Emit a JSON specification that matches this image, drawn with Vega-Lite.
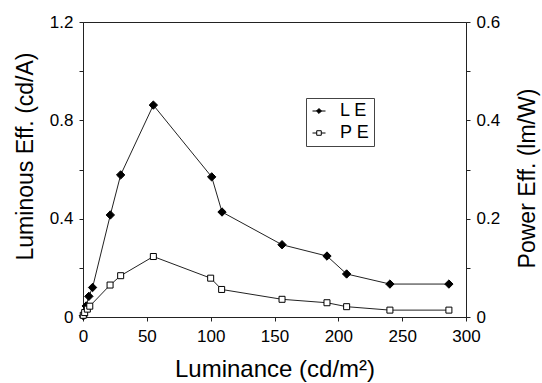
{
  "$schema": "https://vega.github.io/schema/vega-lite/v6.json",
  "width": 383,
  "height": 295,
  "autosize": {"type": "none"},
  "padding": {"left": 83, "top": 22, "right": 76, "bottom": 66},
  "background": "white",
  "config": {
    "view": {"stroke": "#222", "strokeWidth": 1},
    "font": "Liberation Sans",
    "axis": {
      "grid": false,
      "domainColor": "#222",
      "tickColor": "#222",
      "tickSize": 4,
      "labelFont": "Liberation Sans",
      "labelFontSize": 17,
      "labelColor": "black",
      "labelPadding": 6,
      "titleFont": "Liberation Sans",
      "titleFontSize": 23,
      "titleFontWeight": "normal",
      "titleColor": "black",
      "labelOverlap": false,
      "labelFlush": false
    },
    "legend": {
      "labelFont": "Liberation Sans",
      "labelFontSize": 18,
      "labelColor": "black"
    }
  },
  "data": {
    "values": [
      {"lum": 0.3, "eff": 0.005, "series": "L E"},
      {"lum": 2.5, "eff": 0.045, "series": "L E"},
      {"lum": 4.6, "eff": 0.084, "series": "L E"},
      {"lum": 7.5, "eff": 0.12, "series": "L E"},
      {"lum": 21.4, "eff": 0.415, "series": "L E"},
      {"lum": 29.5, "eff": 0.578, "series": "L E"},
      {"lum": 55.1, "eff": 0.862, "series": "L E"},
      {"lum": 100.8, "eff": 0.57, "series": "L E"},
      {"lum": 108.9, "eff": 0.427, "series": "L E"},
      {"lum": 155.9, "eff": 0.294, "series": "L E"},
      {"lum": 191.1, "eff": 0.248, "series": "L E"},
      {"lum": 206.5, "eff": 0.175, "series": "L E"},
      {"lum": 240.4, "eff": 0.134, "series": "L E"},
      {"lum": 286.6, "eff": 0.134, "series": "L E"},
      {"lum": 0.2, "eff": 0.0035, "series": "P E"},
      {"lum": 1.3, "eff": 0.009, "series": "P E"},
      {"lum": 3.4, "eff": 0.016, "series": "P E"},
      {"lum": 5.3, "eff": 0.022, "series": "P E"},
      {"lum": 21.2, "eff": 0.065, "series": "P E"},
      {"lum": 29.5, "eff": 0.084, "series": "P E"},
      {"lum": 55.1, "eff": 0.123, "series": "P E"},
      {"lum": 100.0, "eff": 0.079, "series": "P E"},
      {"lum": 108.6, "eff": 0.056, "series": "P E"},
      {"lum": 155.9, "eff": 0.036, "series": "P E"},
      {"lum": 191.1, "eff": 0.029, "series": "P E"},
      {"lum": 206.5, "eff": 0.021, "series": "P E"},
      {"lum": 240.4, "eff": 0.014, "series": "P E"},
      {"lum": 286.6, "eff": 0.014, "series": "P E"}
    ]
  },
  "encoding": {
    "x": {
      "field": "lum",
      "type": "quantitative",
      "scale": {"domain": [0, 300], "nice": false, "zero": false},
      "axis": {
        "values": [0, 50, 100, 150, 200, 250, 300],
        "title": "Luminance (cd/m²)",
        "titleFontSize": 24,
        "labelPadding": 7,
        "titlePadding": 13
      }
    }
  },
  "layer": [
    {
      "transform": [{"filter": "datum.series === 'L E'"}],
      "encoding": {
        "y": {
          "field": "eff",
          "type": "quantitative",
          "scale": {"domain": [0, 1.2], "nice": false},
          "axis": {
            "orient": "left",
            "values": [0, 0.2, 0.4, 0.6, 0.8, 1.0, 1.2],
            "format": ".1~f",
            "labelExpr": "indexof(['0','0.4','0.8','1.2'], datum.label) >= 0 ? datum.label : ''",
            "title": "Luminous Eff. (cd/A)",
            "titleY": 134,
            "titlePadding": 12
          }
        }
      },
      "layer": [
        {"mark": {"type": "line", "color": "#222", "strokeWidth": 1}, "encoding": {}},
        {
          "mark": {"type": "point", "shape": "diamond", "filled": true, "fill": "black", "stroke": "black", "strokeWidth": 1, "size": 70, "opacity": 1},
          "encoding": {}
        }
      ]
    },
    {
      "transform": [{"filter": "datum.series === 'P E'"}],
      "encoding": {
        "y": {
          "field": "eff",
          "type": "quantitative",
          "scale": {"domain": [0, 0.6], "nice": false},
          "axis": {
            "orient": "right",
            "values": [0, 0.1, 0.2, 0.3, 0.4, 0.5, 0.6],
            "format": ".1~f",
            "labelExpr": "indexof(['0','0.2','0.4','0.6'], datum.label) >= 0 ? datum.label : ''",
            "title": "Power Eff. (lm/W)",
            "titleAngle": 270,
            "titleBaseline": "top",
            "titleY": 156,
            "titlePadding": 17
          }
        }
      },
      "layer": [
        {"mark": {"type": "line", "color": "#222", "strokeWidth": 1}, "encoding": {}},
        {
          "mark": {"type": "point", "shape": "square", "filled": true, "fill": "white", "stroke": "black", "strokeWidth": 1, "size": 36, "opacity": 1},
          "encoding": {}
        },
        {
          "mark": {"type": "point", "filled": true, "strokeWidth": 1, "opacity": 0},
          "encoding": {
            "shape": {
              "field": "series",
              "type": "nominal",
              "scale": {"domain": ["L E", "P E"], "range": ["M-1,0H1M-0.38,0L0,-0.38L0.38,0L0,0.38Z", "M-1,0H-0.35M0.35,0H1M-0.35,-0.35H0.35V0.35H-0.35Z"]},
              "legend": {
                "title": null,
                "orient": "none",
                "legendX": 223,
                "legendY": 76,
                "strokeColor": "#444",
                "padding": 4,
                "rowPadding": 4,
                "symbolSize": 169,
                "symbolStrokeWidth": 1,
                "symbolStrokeColor": "black",
                "symbolOpacity": 1,
                "labelOffset": 12
              }
            },
            "fill": {
              "field": "series",
              "type": "nominal",
              "scale": {"domain": ["L E", "P E"], "range": ["black", "white"]}
            },
            "stroke": {
              "field": "series",
              "type": "nominal",
              "scale": {"domain": ["L E", "P E"], "range": ["black", "black"]}
            }
          }
        }
      ]
    }
  ],
  "resolve": {"scale": {"y": "independent"}}
}
